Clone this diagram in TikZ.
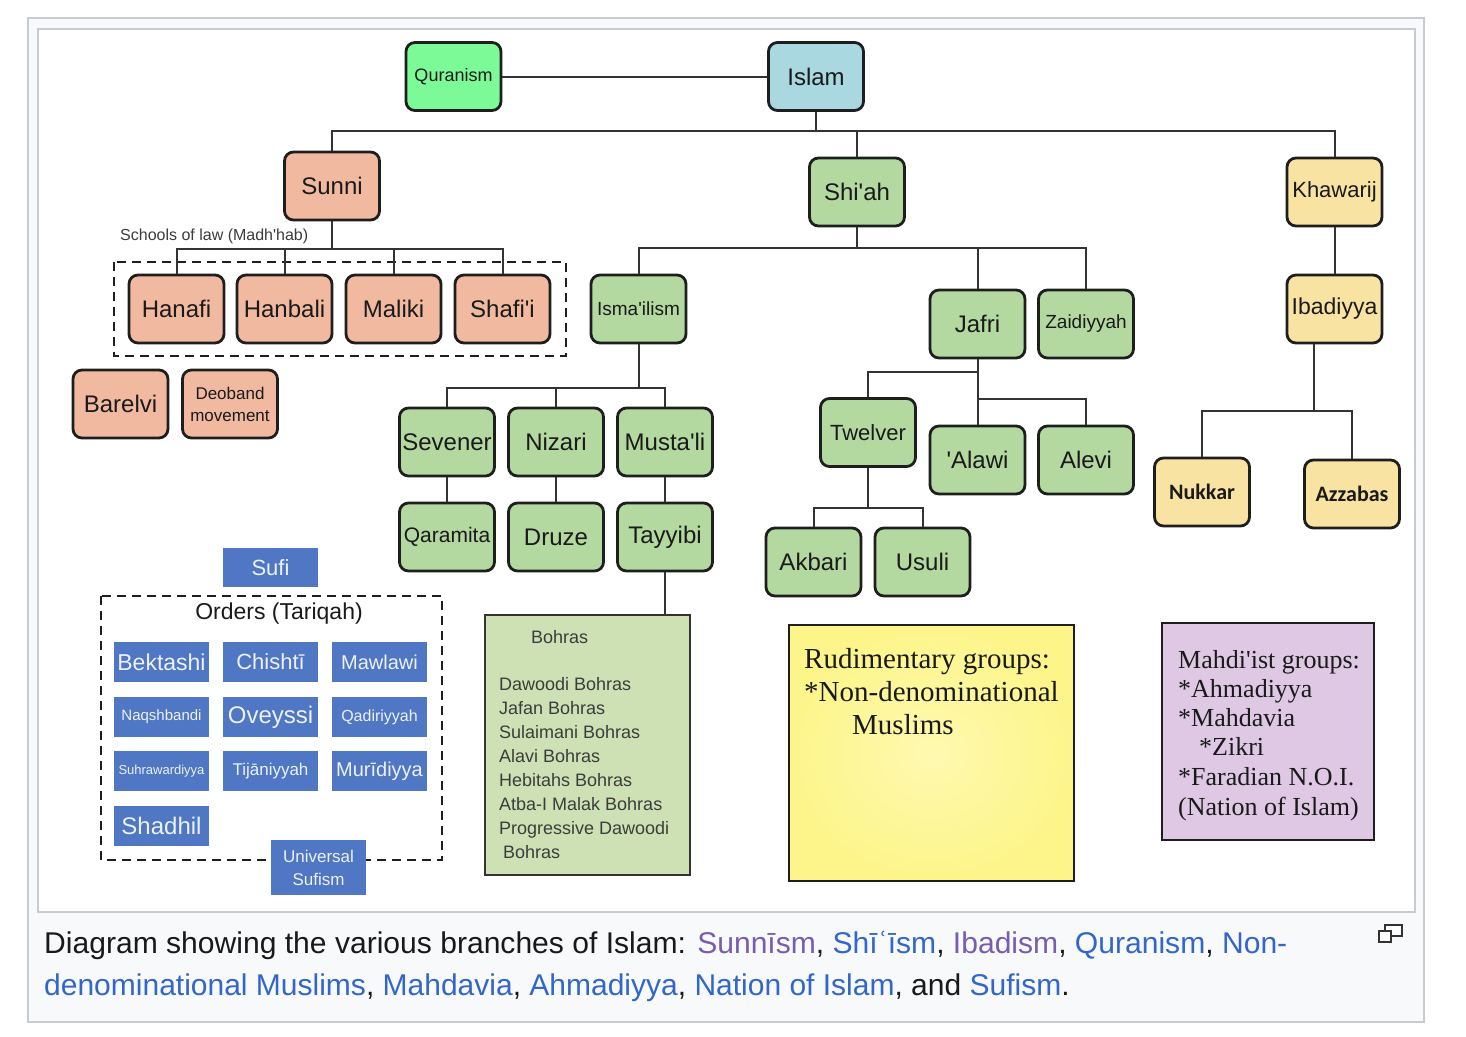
\documentclass[tikz,border=0pt]{standalone}
\usepackage{fontspec}
\setmainfont{Liberation Sans}
\newfontfamily\serifB{Liberation Serif}
\newfontfamily\calib{Carlito}
\usepackage{graphicx}
\definecolor{salm}{HTML}{F0B9A0}
\definecolor{grn}{HTML}{B3D8A0}
\definecolor{yel}{HTML}{F8E3A3}
\definecolor{qgrn}{HTML}{7DFA98}
\definecolor{iblue}{HTML}{AAD8E0}
\definecolor{sblue}{HTML}{4F77C4}
\definecolor{bohf}{HTML}{CDE1B4}
\definecolor{rudy}{HTML}{FDF58A}
\definecolor{rudyl}{HTML}{FEF9B0}
\definecolor{mahf}{HTML}{DEC8E4}
\definecolor{linec}{HTML}{1E1E1E}
\definecolor{connc}{HTML}{333333}
\definecolor{txtc}{HTML}{1A1A1A}
\definecolor{panel}{HTML}{F8F9FA}
\definecolor{pborder}{HTML}{C8CCD1}
\definecolor{linkb}{HTML}{3366CC}
\definecolor{linkv}{HTML}{795CB2}
\newcommand\fs[2]{\fontsize{#1}{#2}\selectfont}
\newcommand\ap{\textquotesingle}
\tikzset{
  rbox/.style={draw=linec, line width=2.8pt, rounded corners=9pt, minimum width=95pt, minimum height=68pt, inner sep=0pt, text=txtc, font=\fs{24}{28}},
  salmbox/.style={rbox, fill=salm},
  grnbox/.style={rbox, fill=grn},
  yelbox/.style={rbox, fill=yel},
  conn/.style={draw=connc, line width=2pt},
  dashbox/.style={draw=linec, line width=2.8pt, dash pattern=on 9pt off 6pt},
  sbox/.style={fill=sblue, minimum width=95pt, minimum height=40pt, inner sep=0pt, text=white!90!sblue, font=\fs{22}{26}},
  bohtxt/.style={anchor=base west, inner sep=0pt, text=txtc!85, font=\fs{18}{20}},
  rudtxt/.style={anchor=base west, inner sep=0pt, text=txtc, font=\serifB\fs{29}{32}},
  mahtxt/.style={anchor=base west, inner sep=0pt, text=txtc, font=\serifB\fs{26}{29}},
  captxt/.style={anchor=base west, inner sep=0pt, text=black!90, font=\fs{30}{34}}
}
\begin{document}
\begin{tikzpicture}[x=1pt, y=-1pt]
\useasboundingbox (0,0) rectangle (1466,1036);
\fill[white] (0,0) rectangle (1466,1036);
% panels
\draw[fill=panel, draw=pborder, line width=1.5pt] (28,18) rectangle (1424,1022);
\draw[fill=white, draw=pborder, line width=1.5pt] (38,29) rectangle (1415,912);

% dashed groups
\draw[dashbox] (114,262) rectangle (566,356);
\draw[dashbox] (101,596) rectangle (442,860);

% top
\node[rbox, fill=qgrn, font=\fs{18}{20}] (quran) at (453.5,76.5) {Quranism};
\node[rbox, fill=iblue] (islam) at (816,76.5) {Islam};
\node[salmbox] (sunni) at (332,186) {Sunni};
\node[grnbox] (shiah) at (857,192) {Shi\ap ah};
\node[yelbox, font=\fs{22}{24}] (khaw) at (1334.5,192) {Khawarij};

% Sunni
\node[anchor=west, inner sep=0pt, text=txtc!85, font=\fs{16}{18}] (schools) at (120,236) {Schools of law (Madh\ap hab)};
\node[salmbox] (hanafi) at (176.5,309) {Hanafi};
\node[salmbox] (hanbali) at (284.5,309) {Hanbali};
\node[salmbox] (maliki) at (393.5,309) {Maliki};
\node[salmbox] (shafii) at (502.5,309) {Shafi\ap i};
\node[salmbox] (barelvi) at (120.5,404) {Barelvi};
\node[salmbox, align=center, font=\fs{17}{22}] (deoband) at (230,404) {Deoband\\movement};

% Shi'ah
\node[grnbox, font=\fs{19}{22}] (ismaili) at (638.5,309) {Isma\ap ilism};
\node[grnbox] (jafri) at (977.5,324) {Jafri};
\node[grnbox, font=\fs{19}{22}] (zaid) at (1086,324) {Zaidiyyah};
\node[grnbox] (sevener) at (447,442) {Sevener};
\node[grnbox] (nizari) at (556,442) {Nizari};
\node[grnbox] (mustali) at (665,442) {Musta\ap li};
\node[grnbox, font=\fs{21}{24}] (qaram) at (447,537) {Qaramita};
\node[grnbox] (druze) at (556,537) {Druze};
\node[grnbox] (tayyibi) at (665,537) {Tayyibi};
\node[grnbox, font=\fs{22}{26}] (twelver) at (868,432.5) {Twelver};
\node[grnbox] (alawi) at (977.5,460) {\ap Alawi};
\node[grnbox] (alevi) at (1086,460) {Alevi};
\node[grnbox] (akbari) at (813.5,562) {Akbari};
\node[grnbox] (usuli) at (922.5,562) {Usuli};

% Khawarij
\node[yelbox, font=\fs{23}{26}] (ibad) at (1334.5,309) {Ibadiyya};
\node[yelbox, font=\calib\bfseries\fs{22}{26}] (nukkar) at (1202,492) {Nukkar};
\node[yelbox, font=\calib\bfseries\fs{22}{26}] (azzabas) at (1352,494) {Azzabas};

% Bohras
\node[draw=connc, line width=2pt, fill=bohf, minimum width=205pt, minimum height=260pt, inner sep=0pt] (bohras) at (587.5,745) {};
\node[bohtxt] (bh0) at (531,643) {Bohras};
\node[bohtxt] (bh1) at (499,690) {Dawoodi Bohras};
\node[bohtxt] (bh2) at (499,714) {Jafan Bohras};
\node[bohtxt] (bh3) at (499,738) {Sulaimani Bohras};
\node[bohtxt] (bh4) at (499,762) {Alavi Bohras};
\node[bohtxt] (bh5) at (499,786) {Hebitahs Bohras};
\node[bohtxt] (bh6) at (499,810) {Atba-I Malak Bohras};
\node[bohtxt] (bh7) at (499,834) {Progressive Dawoodi};
\node[bohtxt] (bh8) at (503,858) {Bohras};

% Rudimentary
\node[draw=linec, line width=1.8pt, inner color=rudyl, outer color=rudy, minimum width=285pt, minimum height=256pt, inner sep=0pt] (rud) at (931.5,753) {};
\node[rudtxt] (rud1) at (804,668) {Rudimentary groups:};
\node[rudtxt] (rud2) at (804,701) {*Non-denominational};
\node[rudtxt] (rud3) at (852,734) {Muslims};

% Mahdi
\node[draw=linec, line width=1.8pt, fill=mahf, minimum width=212pt, minimum height=217pt, inner sep=0pt] (mahdi) at (1268,731.5) {};
\node[mahtxt] (mh1) at (1178,668) {Mahdi\ap ist groups:};
\node[mahtxt] (mh2) at (1178,697) {*Ahmadiyya};
\node[mahtxt] (mh3) at (1178,726) {*Mahdavia};
\node[mahtxt] (mh4) at (1199,755) {*Zikri};
\node[mahtxt] (mh5) at (1178,785) {*Faradian N.O.I.};
\node[mahtxt] (mh6) at (1178,815) {(Nation of Islam)};

% Sufi
\node[sbox, minimum height=39pt] (sufi) at (270.5,567.5) {Sufi};
\node[inner sep=0pt, text=txtc, font=\fs{23}{26}] (orders) at (279,614) {Orders (Tariqah)};
\node[sbox, font=\fs{23}{26}] (bektashi) at (161.5,662) {Bektashi};
\node[sbox] (chishti) at (270.5,662) {Chishtī};
\node[sbox, font=\fs{20}{24}] (mawlawi) at (379.5,662) {Mawlawi};
\node[sbox, font=\fs{15}{18}] (naqsh) at (161.5,717) {Naqshbandi};
\node[sbox, font=\fs{24}{28}] (oveyssi) at (270.5,717) {Oveyssi};
\node[sbox, font=\fs{16}{19}] (qadiri) at (379.5,717) {Qadiriyyah};
\node[sbox, font=\fs{13}{16}] (suhra) at (161.5,771) {Suhrawardiyya};
\node[sbox, font=\fs{17}{20}] (tijani) at (270.5,771) {Tijāniyyah};
\node[sbox, font=\fs{20}{24}] (muridi) at (379.5,771) {Murīdiyya};
\node[sbox, font=\fs{24}{28}] (shadhil) at (161.5,826) {Shadhil};
\node[sbox, minimum height=55pt, align=center, font=\fs{17}{23}] (univ) at (318.5,867.5) {Universal\\Sufism};

% connectors
\coordinate (b1) at (0,131);
\coordinate (b2) at (0,249);
\coordinate (b3) at (0,248);
\coordinate (b4) at (0,388);
\coordinate (b5) at (0,372);
\coordinate (b6) at (0,399);
\coordinate (b7) at (0,508);
\coordinate (b8) at (0,411);
\coordinate (ibx) at (1314,0);
\draw[conn] (quran.east) -- (islam.west);
\draw[conn] (islam.south) -- (islam.south |- b1);
\draw[conn] (sunni.north) |- (khaw.north |- b1) -- (khaw.north);
\draw[conn] (shiah.north) -- (shiah.north |- b1);
\draw[conn] (sunni.south) -- (sunni.south |- b2);
\draw[conn] (hanafi.north) |- (shafii.north |- b2) -- (shafii.north);
\draw[conn] (hanbali.north) -- (hanbali.north |- b2);
\draw[conn] (maliki.north) -- (maliki.north |- b2);
\draw[conn] (shiah.south) -- (shiah.south |- b3);
\draw[conn] (ismaili.north) |- (zaid.north |- b3) -- (zaid.north);
\draw[conn] (jafri.north) -- (jafri.north |- b3);
\draw[conn] (ismaili.south) -- (ismaili.south |- b4);
\draw[conn] (sevener.north) |- (mustali.north |- b4) -- (mustali.north);
\draw[conn] (nizari.north) -- (nizari.north |- b4);
\draw[conn] (sevener.south) -- (qaram.north);
\draw[conn] (nizari.south) -- (druze.north);
\draw[conn] (mustali.south) -- (tayyibi.north);
\draw[conn] (tayyibi.south) -- (tayyibi.south |- bohras.north);
\draw[conn] (jafri.south) -- (alawi.north);
\draw[conn] (jafri.south |- b5) -| (twelver.north);
\draw[conn] (jafri.south |- b6) -| (alevi.north);
\draw[conn] (twelver.south) -- (twelver.south |- b7);
\draw[conn] (akbari.north) |- (usuli.north |- b7) -- (usuli.north);
\draw[conn] (khaw.south) -- (ibad.north);
\draw[conn] (ibad.south -| ibx) -- (ibx |- b8);
\draw[conn] (nukkar.north) |- (azzabas.north |- b8) -- (azzabas.north);

% caption
\node[captxt] (cap1) at (44,953) {\resizebox{1243pt}{\height}{Diagram showing the various branches of Islam: \textcolor{linkv}{Sunnīsm}, \textcolor{linkb}{Shīʿīsm}, \textcolor{linkv}{Ibadism}, \textcolor{linkb}{Quranism}, \textcolor{linkb}{Non-}}};
\node[captxt] (cap2) at (44,995) {\textcolor{linkb}{denominational Muslims}, \textcolor{linkb}{Mahdavia}, \textcolor{linkb}{Ahmadiyya}, \textcolor{linkb}{Nation of Islam}, and \textcolor{linkb}{Sufism}.};
% expand icon
\draw[draw=black!80, fill=white, line width=1.6pt] (1385,925) rectangle (1402,936);
\draw[draw=black!80, fill=white, line width=1.6pt] (1379,931) rectangle (1391,942);
\end{tikzpicture}
\end{document}
